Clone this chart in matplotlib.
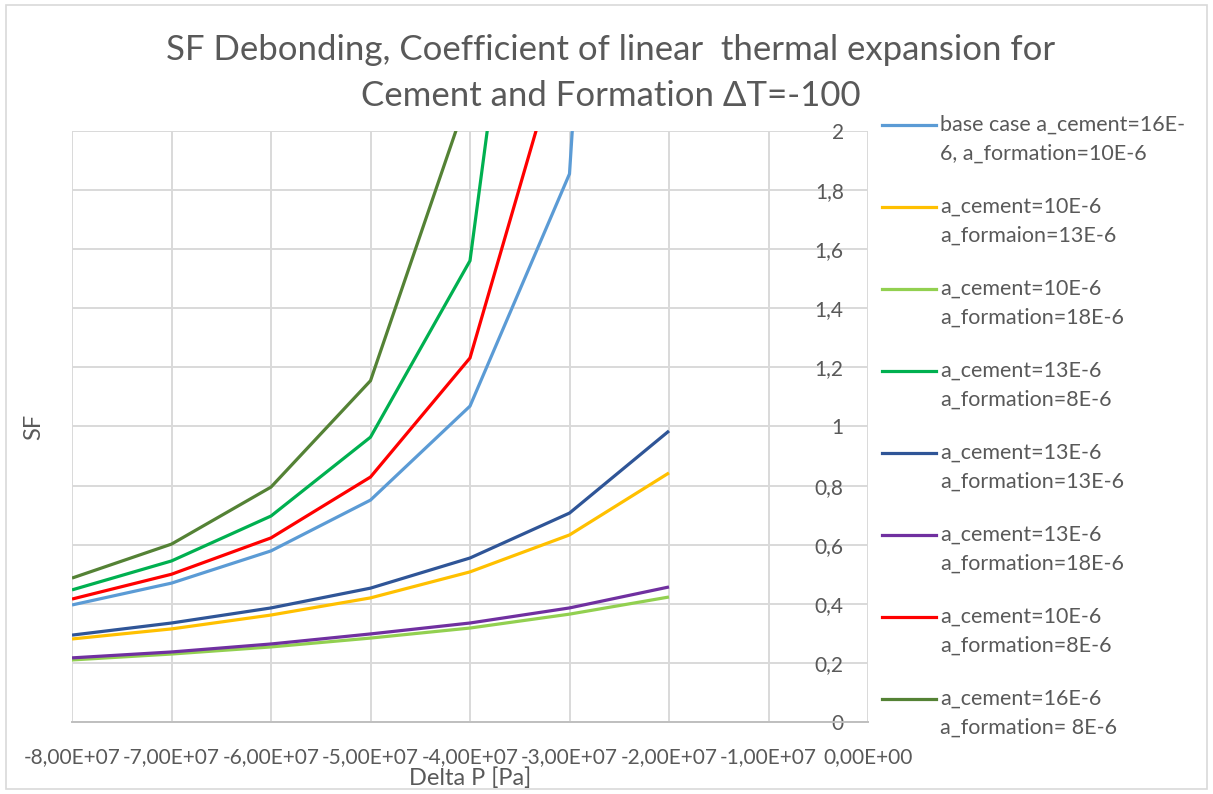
import matplotlib
matplotlib.use("Agg")
import matplotlib.pyplot as plt
from matplotlib.lines import Line2D
from matplotlib.patches import Rectangle
from matplotlib.ticker import FuncFormatter, MultipleLocator

plt.rcParams['font.family'] = ['Lato', 'DejaVu Sans']

# Pressure difference [Pa]
delta_p = [-8e7, -7e7, -6e7, -5e7, -4e7, -3e7, -2e7]

# Safety factor for each combination of expansion coefficients
sf_base = [0.396, 0.470, 0.579, 0.751, 1.069, 1.855, 7.1]
sf_c10_f13 = [0.281, 0.315, 0.362, 0.420, 0.508, 0.633, 0.843]
sf_c10_f18 = [0.210, 0.230, 0.254, 0.284, 0.318, 0.365, 0.423]
sf_c13_f8 = [0.447, 0.545, 0.697, 0.964, 1.561, 4.1, 9.0]
sf_c13_f13 = [0.294, 0.335, 0.386, 0.453, 0.555, 0.707, 0.985]
sf_c13_f18 = [0.217, 0.237, 0.264, 0.298, 0.335, 0.386, 0.457]
sf_c10_f8 = [0.416, 0.500, 0.623, 0.829, 1.232, 2.39, 5.0]
sf_c16_f8 = [0.487, 0.602, 0.795, 1.155, 2.14, 4.5, 10.0]

labels = [
    "base case a_cement=16E-\n6, a_formation=10E-6",
    "a_cement=10E-6\na_formaion=13E-6",
    "a_cement=10E-6\na_formation=18E-6",
    "a_cement=13E-6\na_formation=8E-6",
    "a_cement=13E-6\na_formation=13E-6",
    "a_cement=13E-6\na_formation=18E-6",
    "a_cement=10E-6\na_formation=8E-6",
    "a_cement=16E-6\na_formation= 8E-6",
]
series = [sf_base, sf_c10_f13, sf_c10_f18, sf_c13_f8,
          sf_c13_f13, sf_c13_f18, sf_c10_f8, sf_c16_f8]
colors = ["#5B9BD5", "#FFC000", "#92D050", "#00B050",
          "#2F5597", "#7030A0", "#FF0000", "#548235"]

TEXT = "#595959"
GRID = "#D9D9D9"

W, H = 1213, 794
fig = plt.figure(figsize=(W / 100, H / 100), dpi=100)
fig.patch.set_facecolor("white")

# chart-area border
fig.add_artist(Rectangle((6 / W, 5 / H), 1 - 12 / W, 1 - 10 / H,
                         transform=fig.transFigure, fill=False,
                         edgecolor="#D9D9D9", linewidth=1.2))

ax = fig.add_axes([72 / W, 1 - 722 / H, (868 - 72) / W, (722 - 131) / H])

for ys, c in zip(series, colors):
    ax.plot(delta_p, ys, color=c, linewidth=2.3, solid_capstyle="butt",
            solid_joinstyle="miter", zorder=3)

ax.set_xlim(-8e7, 0)
ax.set_ylim(0, 2)
ax.xaxis.set_major_locator(MultipleLocator(1e7))
ax.yaxis.set_major_locator(MultipleLocator(0.2))


def fmt_x(v, pos):
    m, e = f"{v:.2E}".split("E")
    return f"{m.replace('.', ',')}E{e[0]}{int(e[1:]):02d}"


def fmt_y(v, pos):
    s = f"{v:.1f}".rstrip("0").rstrip(".")
    return s.replace(".", ",")


ax.xaxis.set_major_formatter(FuncFormatter(fmt_x))
ax.yaxis.set_major_formatter(FuncFormatter(fmt_y))

ax.grid(True, color=GRID, linewidth=1.4, zorder=0)
ax.set_axisbelow(True)
for side in ["top", "right", "left"]:
    ax.spines[side].set_visible(False)
ax.spines["bottom"].set_color("#BFBFBF")
ax.spines["bottom"].set_linewidth(1.4)

ax.tick_params(axis="x", length=0, pad=18, labelsize=15, labelcolor=TEXT)
ax.tick_params(axis="y", left=False, right=False, labelleft=False,
               labelright=True, pad=-21, labelsize=15, labelcolor=TEXT)
for lab in ax.get_yticklabels():
    lab.set_horizontalalignment("right")

ax.set_xlabel("Delta P [Pa]", fontsize=17, color=TEXT, labelpad=0)
ax.set_ylabel("SF", fontsize=17, color=TEXT, labelpad=20)

fig.text(0.5035, 1 - 50 / H,
         "SF Debonding, Coefficient of linear  thermal expansion for",
         ha="center", va="center", fontsize=25, color=TEXT)
fig.text(0.5035, 1 - 96 / H, "Cement and Formation \u0394T=-100",
         ha="center", va="center", fontsize=25, color=TEXT)

# legend drawn to the right of the plot
for i, (lab, c) in enumerate(zip(labels, colors)):
    y = 125 + i * 82
    fig.add_artist(Line2D([882 / W, 936 / W], [1 - y / H, 1 - y / H],
                          transform=fig.transFigure, color=c, linewidth=2.3))
    fig.text(940 / W, 1 - (y - 10) / H, lab, ha="left", va="top",
             fontsize=15.5, color=TEXT, linespacing=1.55)

fig.savefig("out.png", dpi=100)
